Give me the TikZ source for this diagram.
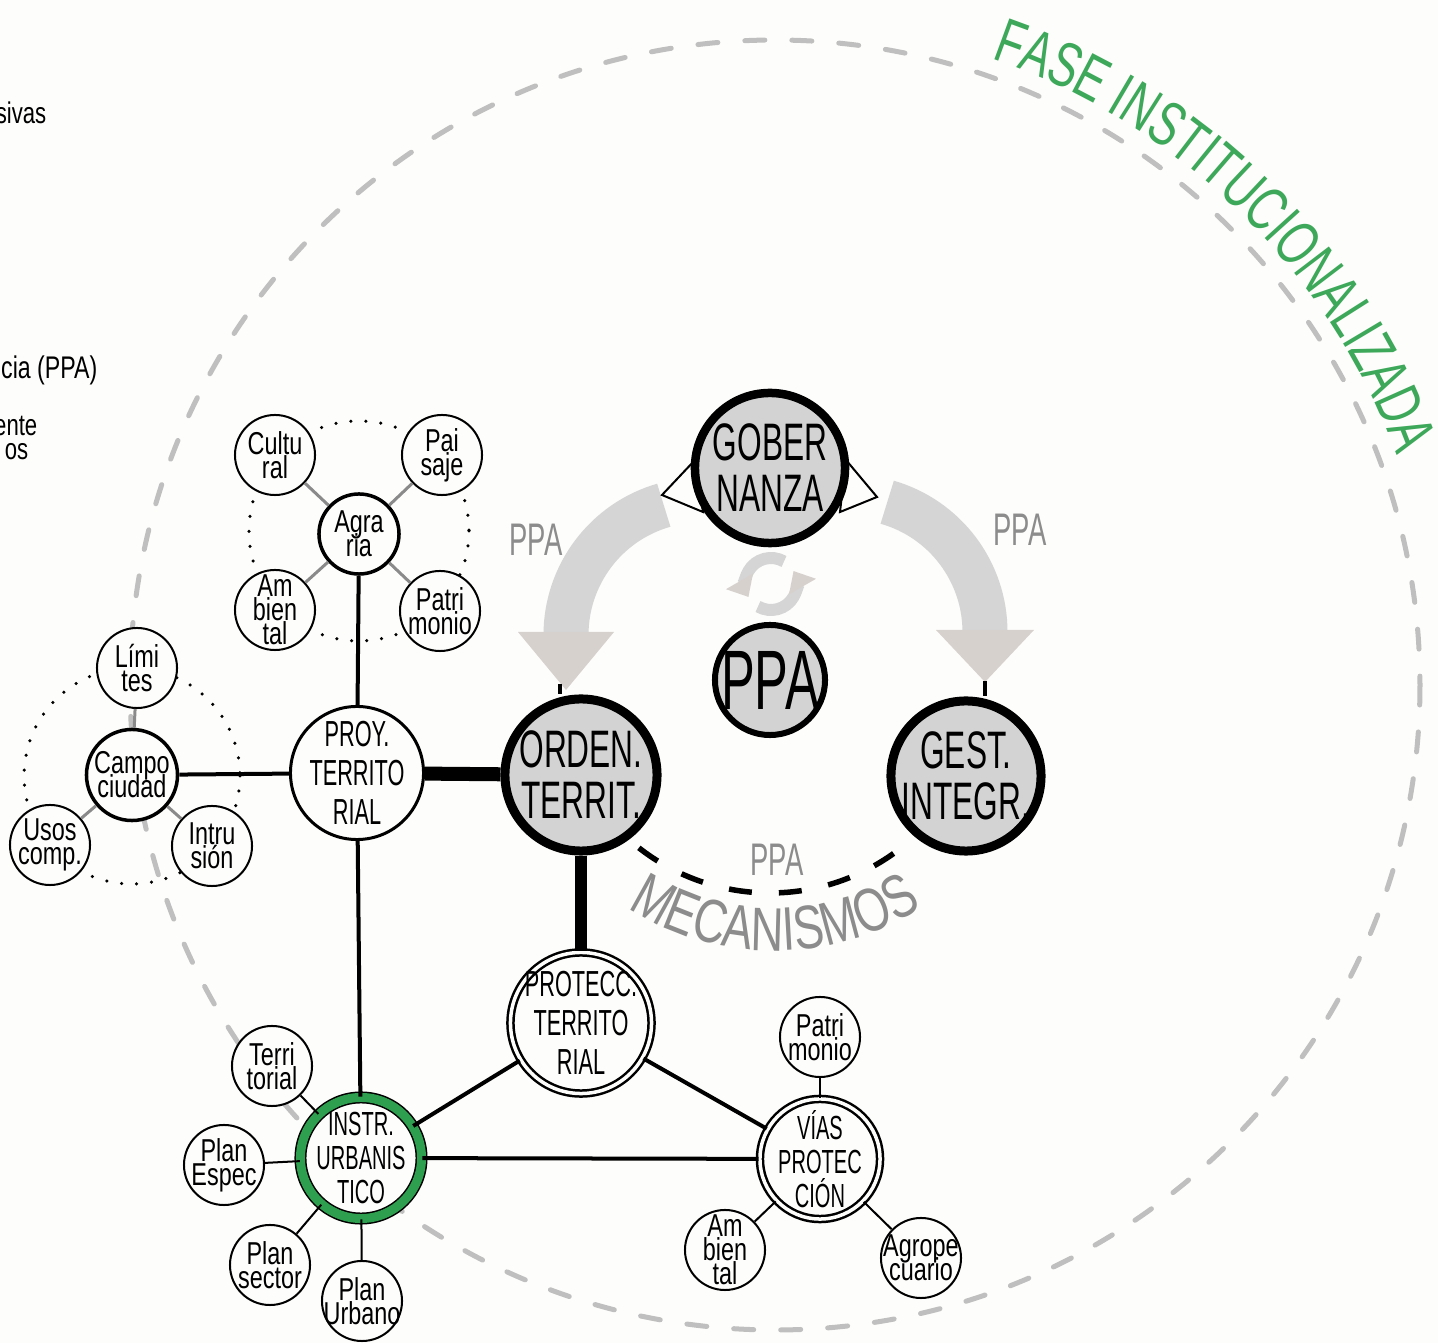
\documentclass[tikz,border=0pt]{standalone}
\usepackage{fontspec}
\usepackage{tikz}
\usetikzlibrary{arrows.meta, decorations.text}

\newfontfamily\narrowfont[FakeStretch=0.6]{Liberation Sans}
\newfontfamily\condfont[FakeStretch=0.74]{Liberation Sans}
\newfontfamily\fasefont[FakeStretch=0.69]{Liberation Sans}
\newcommand{\tightlines}{\lineskiplimit=-100pt\lineskip=0pt}

\definecolor{paper}{HTML}{FDFDFB}
\definecolor{nodegray}{HTML}{D3D3D3}
\definecolor{bandgray}{HTML}{D5D5D5}
\definecolor{headgray}{HTML}{D7D1CE}
\definecolor{dashgray}{HTML}{BFBFBF}
\definecolor{labelgray}{HTML}{8C8C8C}
\definecolor{spokegray}{HTML}{8A8A8A}
\definecolor{ringgreen}{HTML}{2E9F4F}
\definecolor{fasegreen}{HTML}{3DA85A}

\tikzset{
  bignode/.style={circle, draw, fill=nodegray, line width=0.085cm, minimum size=1.5cm, inner sep=-0.3cm, align=center, font=\narrowfont\fontsize{15}{14.5}\selectfont\tightlines},
  midnode/.style={circle, draw, fill=paper, line width=0.03cm, minimum size=1.33cm, inner sep=-0.3cm, align=center, font=\narrowfont\fontsize{10.3}{11}\selectfont\tightlines},
  urbtext/.style={font=\narrowfont\fontsize{9.5}{9.7}\selectfont\tightlines},
  ringnode/.style={midnode, double=paper, double distance=0.035cm, line width=0.025cm},
  greennode/.style={midnode, urbtext, double=ringgreen, double distance=0.09cm, line width=0.015cm, minimum size=1.21cm},
  satnode/.style={circle, draw, fill=paper, line width=0.02cm, minimum size=0.8cm, inner sep=-0.3cm, align=center, font=\condfont\fontsize{9}{6.8}\selectfont\tightlines},
  hubnode/.style={satnode, line width=0.035cm},
  dotring/.style={line width=0.035cm, line cap=round, dash pattern=on 0pt off 0.15cm},
  spoke/.style={line width=0.02cm},
  greyspoke/.style={spokegray, line width=0.03cm},
  link/.style={line width=0.04cm},
  heavylink/.style={line width=0.14cm},
  band/.style={bandgray, line width=0.45cm},
  cyclearrow/.style={bandgray, line width=0.12cm, -{Triangle[width=0.3cm, length=0.18cm, color=headgray]}},
  ppalabel/.style={labelgray, font=\narrowfont\fontsize{13}{13}\selectfont},
  legend/.style={inner sep=0pt, font=\condfont\fontsize{8.5}{9}\selectfont}
}

\begin{document}
\begin{tikzpicture}[x=0.01cm, y=-0.01cm]
  % Page
  \fill[paper] (0, 0) rectangle (1438, 1343);
  \useasboundingbox (0, 0) rectangle (1438, 1343);

  % Legend (cut off at the left edge)
  \node[legend, anchor=east] (legA) at (47, 113) {sivas};
  \node[legend, anchor=east, font=\condfont\fontsize{8.9}{9}\selectfont] (legB) at (98, 370) {cia (PPA)};
  \node[legend, anchor=east] (legC) at (38, 426) {ente};
  \node[legend, anchor=east] (legD) at (29, 452) {os};

  % Phase circle
  \draw[dashgray, line width=0.05cm, line cap=round, dash pattern=on 0.2cm off 0.27cm] (775, 685) circle[radius=645];
  \path[decorate, decoration={text along path, text color=fasegreen, text align=center,
      text={|\fasefont\fontsize{18}{18}\selectfont|FASE INSTITUCIONALIZADA}}]
    ([shift={(-71.6:663)}] 775, 685) arc[start angle=-71.6, end angle=-19.6, radius=663];

  % Dotted groups
  \draw[dotring] (359, 531) circle[radius=110];
  \draw[dotring] (132, 776) circle[radius=108];

  % PPA arrows
  \draw[band] ([shift={(254:135)}] 701, 635) arc[start angle=254, end angle=180, radius=135];
  \fill[headgray] (518, 632) -- (614, 632) -- (566, 690) -- cycle;
  \draw[band] ([shift={(-74:135)}] 850, 632) arc[start angle=-74, end angle=0, radius=135];
  \fill[headgray] (936, 630) -- (1034, 630) -- (985, 682) -- cycle;
  \coordinate (tipL) at (560, 684);
  \coordinate (tipR) at (985, 681);

  % Cycle icon
  \draw[cyclearrow] ([shift={(300:26)}] 771, 584) arc[start angle=300, end angle=150, radius=26];
  \draw[cyclearrow] ([shift={(120:26)}] 771, 584) arc[start angle=120, end angle=-30, radius=26];

  % Open tips beside governance
  \filldraw[fill=paper, line width=0.02cm] (695, 460) -- (662, 495) -- (703, 512) -- cycle;
  \filldraw[fill=paper, line width=0.02cm] (846, 460) -- (877, 497) -- (840, 512) -- cycle;

  % Main nodes
  \node[bignode] (gober) at (770, 468) {GOBER\\NANZA};
  \node[bignode, line width=0.06cm, minimum size=1.1cm, font=\narrowfont\fontsize{24}{24}\selectfont] (ppa) at (770, 680) {PPA};
  \node[bignode, line width=0.09cm, minimum size=1.52cm] (orden) at (581, 775) {ORDEN.\\TERRIT.};
  \node[bignode, line width=0.09cm] (gest) at (966, 776) {GEST.\\INTEGR.};

  % Territorial project
  \node[midnode] (proy) at (357, 773) {PROY.\\TERRITO\\RIAL};
  \node[ringnode, minimum size=1.41cm] (protecc) at (581, 1023) {PROTECC.\\TERRITO\\RIAL};
  \node[greennode] (instr) at (361, 1158) {INSTR.\\URBANIS\\TICO};
  \node[ringnode, urbtext, minimum size=1.2cm] (vias) at (820, 1159) {VÍAS\\PROTEC\\CIÓN};

  % Agrarian group
  \node[hubnode] (agraria) at (359, 534) {Agra\\ria};
  \node[satnode] (cultural) at (275, 455) {Cultu\\ral};
  \node[satnode] (paisaje) at (442, 455) {Pai\\saje};
  \node[satnode] (ambiental) at (275, 610) {Am\\bien\\tal};
  \node[satnode] (patrimonio) at (440, 611) {Patri\\monio};

  % Field-city group
  \node[hubnode, minimum size=0.91cm] (campo) at (132, 775) {Campo\\ciudad};
  \node[satnode] (limites) at (137, 668) {Lími\\tes};
  \node[satnode] (usos) at (50, 845) {Usos\\comp.};
  \node[satnode] (intrusion) at (212, 846) {Intru\\sión};

  % Urban instruments
  \node[satnode] (territorial) at (272, 1066) {Terri\\torial};
  \node[satnode] (espec) at (224, 1165) {Plan\\Espec};
  \node[satnode] (sector) at (270, 1265) {Plan\\sector};
  \node[satnode] (urbano) at (362, 1301) {Plan\\Urbano};

  % Protection ways
  \node[satnode] (patrimonioB) at (820, 1037) {Patri\\monio};
  \node[satnode] (ambientalB) at (725, 1250) {Am\\bien\\tal};
  \node[satnode] (agrope) at (921, 1258) {Agrope\\cuario};

  % Connectors
  \draw[greyspoke] (agraria) -- (cultural);
  \draw[greyspoke] (agraria) -- (paisaje);
  \draw[greyspoke] (agraria) -- (ambiental);
  \draw[greyspoke] (agraria) -- (patrimonio);
  \draw[greyspoke] (campo) -- (limites);
  \draw[greyspoke] (campo) -- (usos);
  \draw[greyspoke] (campo) -- (intrusion);

  \draw[link] (agraria) -- (proy);
  \draw[link] (campo) -- (proy);
  \draw[link] (proy) -- (instr);
  \draw[link] (instr) -- (protecc);
  \draw[link] (instr) -- (vias);
  \draw[link] (protecc) -- (vias);
  \draw[heavylink] (proy) -- (orden);
  \draw[line width=0.12cm] (orden) -- (protecc);

  \draw[spoke] (instr) -- (territorial);
  \draw[spoke] (instr) -- (espec);
  \draw[spoke] (instr) -- (sector);
  \draw[spoke] (instr) -- (urbano);
  \draw[spoke] (vias) -- (patrimonioB);
  \draw[spoke] (vias) -- (ambientalB);
  \draw[spoke] (vias) -- (agrope);

  \draw[link] (tipL) -- (tipL |- orden.north);
  \draw[link] (tipR) -- (tipR |- gest.north);

  % Mechanisms
  \draw[line width=0.055cm, dash pattern=on 0.23cm off 0.27cm] ([shift={(128:213)}] 770, 680) arc[start angle=128, end angle=54, radius=213];
  \path[decorate, decoration={text along path, text color=labelgray, text align=center,
      text={|\condfont\fontsize{17.5}{17.5}\selectfont|MECANISMOS}}]
    ([shift={(124:271)}] 775, 680) arc[start angle=124, end angle=56, radius=271];

  % Labels
  \node[ppalabel] (ppaleft) at (536, 540) {PPA};
  \node[ppalabel] (pparight) at (1020, 530) {PPA};
  \node[ppalabel] (ppamid) at (777, 860) {PPA};
\end{tikzpicture}
\end{document}
